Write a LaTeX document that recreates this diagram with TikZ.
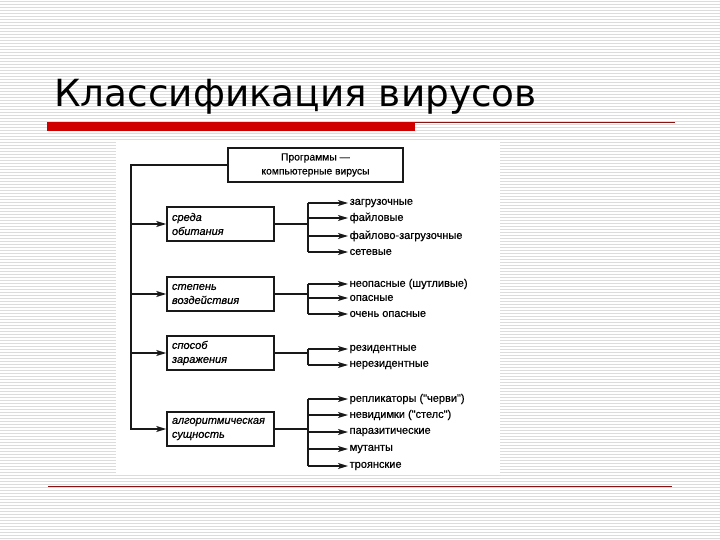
\documentclass[tikz,border=0pt]{standalone}
\usepackage{fontspec}
\setmainfont{Liberation Sans}
\newfontfamily\titlefont{DejaVu Sans}
\newfontfamily\diafont[FakeBold=0.6]{Liberation Sans}
\usetikzlibrary{arrows.meta}
\definecolor{barred}{HTML}{D00000}
\definecolor{linered}{HTML}{8B1010}
\definecolor{stripe}{HTML}{DCDCDC}
\begin{document}
\begin{tikzpicture}[x=1pt,y=-1pt,
  conn/.style={line width=1.5pt,black!90},
  arr/.style={conn,-{Stealth[length=10pt,width=6pt,inset=2.5pt]}},
  catbox/.style={draw=black!90,line width=1.5pt,minimum width=107pt,minimum height=34pt,
    inner xsep=5pt,text width=97pt,align=left,font=\diafont\fontsize{11}{14}\selectfont\itshape},
  topbox/.style={draw=black!90,line width=1.5pt,minimum width=175pt,minimum height=34pt,
    align=center,font=\diafont\fontsize{10.3}{14}\selectfont},
  item/.style={anchor=west,inner xsep=1.5pt,inner ysep=0pt,font=\diafont\fontsize{11}{12}\selectfont}]
\useasboundingbox (0,0) rectangle (720,540);
\fill[white] (0,0) rectangle (720,540);
\foreach \y in {1.5,4.5,...,540} {\draw[stripe,line width=1pt] (0,\y) -- (720,\y);}
% title
\node[anchor=base west,inner sep=0pt,font=\titlefont\fontsize{37.4}{40}\selectfont] (title) at (54,107) {Классификация вирусов};
\fill[barred] (47,122.5) rectangle (415,131);
\draw[linered,line width=1pt] (415,123) -- (675,123);
\draw[linered,line width=1.2pt] (48,486.5) -- (672,486.5);
% scanned image area
\fill[white] (116,140) rectangle (500,475);
% nodes
\node[topbox] (top) at (315.5,165) {Программы —\\компьютерные вирусы};
\node[catbox] (b1) at (220.5,224) {среда\\обитания};
\node[catbox] (b2) at (220.5,294) {степень\\воздействия};
\node[catbox] (b3) at (220.5,353) {способ\\заражения};
\node[catbox] (b4) at (220.5,429) {алгоритмическая\\сущность};
% items
\node[item] (i11) at (348,203) {загрузочные};
\node[item] (i12) at (348,218) {файловые};
\node[item] (i13) at (348,236) {файлово-загрузочные};
\node[item] (i14) at (348,252) {сетевые};
\node[item] (i21) at (348,284) {неопасные (шутливые)};
\node[item] (i22) at (348,298) {опасные};
\node[item] (i23) at (348,314) {очень опасные};
\node[item] (i31) at (348,349) {резидентные};
\node[item] (i32) at (348,365) {нерезидентные};
\node[item] (i41) at (348,399) {репликаторы ("черви")};
\node[item] (i42) at (348,415) {невидимки ("стелс")};
\node[item] (i43) at (348,432) {паразитические};
\node[item] (i44) at (348,449) {мутанты};
\node[item] (i45) at (348,466) {троянские};
% junctions
\coordinate (bus) at (131,165);
\coordinate (j1) at (308,224);
\coordinate (j2) at (308,294);
\coordinate (j3) at (308,353);
\coordinate (j4) at (308,429);
% main bus
\draw[arr] (top.west) -- (bus) -- (bus |- b4.west) -- (b4.west);
\draw[arr] (bus |- b1.west) -- (b1.west);
\draw[arr] (bus |- b2.west) -- (b2.west);
\draw[arr] (bus |- b3.west) -- (b3.west);
% group connectors
\draw[conn] (b1.east) -- (j1);
\draw[conn] (j1 |- i11.west) -- (j1 |- i14.west);
\foreach \i in {i11,i12,i13,i14} \draw[arr] (j1 |- \i.west) -- (\i.west);
\draw[conn] (b2.east) -- (j2);
\draw[conn] (j2 |- i21.west) -- (j2 |- i23.west);
\foreach \i in {i21,i22,i23} \draw[arr] (j2 |- \i.west) -- (\i.west);
\draw[conn] (b3.east) -- (j3);
\draw[conn] (j3 |- i31.west) -- (j3 |- i32.west);
\foreach \i in {i31,i32} \draw[arr] (j3 |- \i.west) -- (\i.west);
\draw[conn] (b4.east) -- (j4);
\draw[conn] (j4 |- i41.west) -- (j4 |- i45.west);
\foreach \i in {i41,i42,i43,i44,i45} \draw[arr] (j4 |- \i.west) -- (\i.west);
\end{tikzpicture}
\end{document}
